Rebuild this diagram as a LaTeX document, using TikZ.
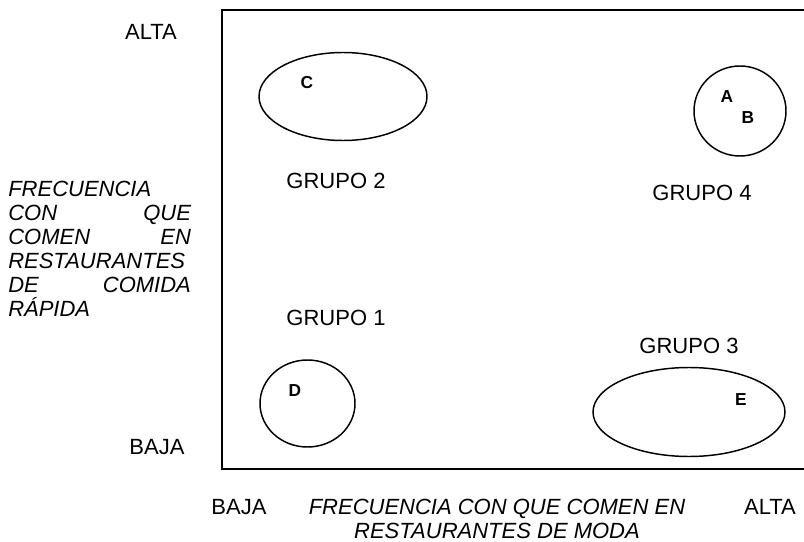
\documentclass[tikz,border=0pt]{standalone}
\usepackage{fontspec}
\setmainfont{Liberation Sans}

\begin{document}
\begin{tikzpicture}[x=0.75pt,y=0.75pt,yscale=-1,xscale=1,
  grupo/.style={inner sep=0.75pt,font=\fontsize{16.5}{19}\selectfont},
  letra/.style={inner sep=0.75pt,font=\fontsize{13}{15}\selectfont\bfseries},
  eje/.style={inner sep=0.75pt,font=\fontsize{16.5}{18}\selectfont\itshape}]
\useasboundingbox (0,0) rectangle (804,542);

%Shape: Frame
\draw [line width=1.5]  (804,10) -- (222,10) -- (222,469) -- (804,469) ;
%Shape: Ellipse C
\draw [line width=1.1]  (343,96.5) ellipse (84 and 44) ;
%Shape: Circle A B
\draw [line width=1.1]  (740,111) ellipse (46 and 45) ;
%Shape: Circle D
\draw [line width=1.1]  (307.5,403.5) ellipse (47.5 and 43.5) ;
%Shape: Ellipse E
\draw [line width=1.1]  (689,412) ellipse (96 and 44.5) ;

% Text Node
\draw (151,32) node [grupo] (altaY)   {ALTA};
% Text Node
\draw (157,447) node [grupo] (bajaY)   {BAJA};
% Text Node
\draw (7,180) node [eje,anchor=north west,text width=137pt,align=left] (ejeY)   {FRECUENCIA\\CON\hfill QUE\\COMEN\hfill EN\\RESTAURANTES\\DE\hfill COMIDA\\R\'APIDA};
% Text Node
\draw (336,181) node [grupo] (g2)   {GRUPO 2};
% Text Node
\draw (702,193) node [grupo] (g4)   {GRUPO 4};
% Text Node
\draw (336,318) node [grupo] (g1)   {GRUPO 1};
% Text Node
\draw (689,346) node [grupo] (g3)   {GRUPO 3};
% Text Node
\draw (307,83) node [letra] (c)   {C};
% Text Node
\draw (727,97) node [letra] (a)   {A};
% Text Node
\draw (748,118) node [letra] (b)   {B};
% Text Node
\draw (295,391) node [letra] (d)   {D};
% Text Node
\draw (741,400) node [letra] (e)   {E};
% Text Node
\draw (239,507) node [grupo] (bajaX)   {BAJA};
% Text Node
\draw (497,519) node [eje,align=center] (ejeX)   {FRECUENCIA CON QUE COMEN EN\\RESTAURANTES DE MODA};
% Text Node
\draw (770,507) node [grupo] (altaX)   {ALTA};

\end{tikzpicture}
\end{document}
